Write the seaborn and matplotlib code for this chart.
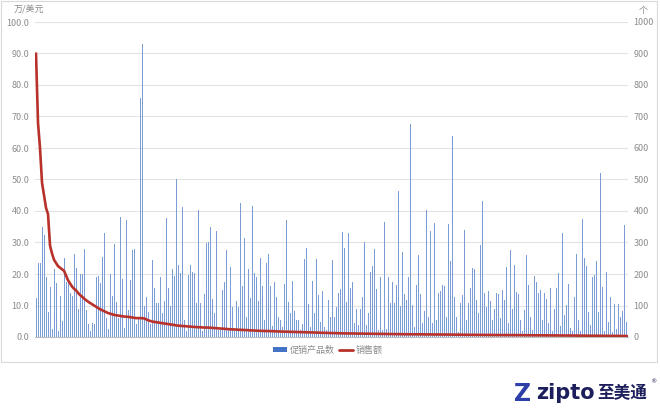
import matplotlib
matplotlib.use("Agg")
import matplotlib.pyplot as plt
import seaborn as sns
import numpy as np
import pandas as pd
from matplotlib.patches import Rectangle, Patch
from matplotlib.lines import Line2D

# ---------------- data ----------------
# bar series: 促销产品数 (个, right axis)
counts_a = [124, 236, 236, 350, 324, 190, 80, 160, 25, 215, 170, 20, 130, 50, 250, 175, 170, 140, 130, 262,
            220, 90, 200, 200, 280, 86, 40, 20, 46, 40, 190, 195, 170, 255, 330, 60, 25, 200, 130, 294,
            110, 60, 382, 185, 30, 370, 86, 180, 275, 278, 40, 60, 760, 930, 100, 128, 80, 40, 245]
counts_b = [155, 108, 108, 192, 75, 113, 377, 155, 97, 215, 195, 500, 230, 202, 414, 54, 20, 197, 230, 207,
            202, 108, 403, 108, 20, 138, 298, 301, 348, 120, 75, 337, 22, 22, 149, 174, 276, 22, 221, 95,
            20, 113, 95, 426, 163, 314, 64, 216, 123, 416, 202, 192, 113, 252, 162, 54, 236, 262, 162, 35]
counts_c = [175, 127, 64, 54, 33, 167, 371, 110, 75, 178, 83, 54, 54, 22, 41, 247, 283, 104, 33, 178,
            75, 247, 133, 49, 147, 33, 22, 117, 64, 244, 64, 95, 141, 152, 333, 282, 112, 330, 154, 175,
            45, 90, 38, 90, 127, 303, 38, 75, 205, 226, 279, 152, 22, 189, 22, 366, 24, 189, 107, 175]
counts_d = [107, 165, 463, 98, 270, 136, 117, 189, 676, 101, 33, 165, 260, 138, 45, 82, 403, 64, 335, 45,
            362, 54, 141, 147, 165, 163, 64, 359, 241, 638, 127, 64, 16, 107, 133, 340, 54, 107, 154, 218,
            215, 117, 75, 293, 432, 141, 95, 147, 115, 54, 90, 141, 138, 60, 150, 117, 222, 45, 275, 90]
counts_e = [229, 144, 137, 55, 18, 86, 260, 165, 65, 23, 194, 176, 140, 149, 55, 141, 122, 43, 154, 18,
            88, 157, 202, 34, 331, 70, 102, 168, 28, 18, 127, 264, 55, 18, 375, 250, 224, 80, 39, 192,
            197, 242, 80, 520, 160, 18, 205, 47, 127, 16, 104, 26, 104, 65, 82, 356, 49]
counts = counts_a + counts_b + counts_c + counts_d + counts_e

# line series: 销售额 (万/美元, left axis)
sales_a = [90, 68, 60, 49, 45, 41, 39, 29, 26.5, 24.5,
           23.5, 22.5, 22, 21.5, 21, 19.5, 18, 17, 16, 15.3,
           14.8, 14, 13.3, 12.8, 12.2, 11.7, 11.2, 10.8, 10.4, 10,
           9.6, 9.2, 8.8, 8.5, 8.2, 7.9, 7.6, 7.4, 7.2, 7.0,
           6.9, 6.8, 6.7, 6.6, 6.5, 6.45, 6.4, 6.3, 6.2, 6.1,
           6.0, 6.0, 6.0, 5.95, 5.9, 5.6, 5.3, 5.1, 4.9, 4.8]
sales_b = [4.7, 4.6, 4.5, 4.4, 4.3, 4.2, 4.1, 4.0, 3.9, 3.8,
           3.7, 3.6, 3.55, 3.5, 3.45, 3.4, 3.35, 3.3, 3.25, 3.2,
           3.15, 3.1, 3.1, 3.05, 3.0, 3.0, 3.0, 2.95, 2.9, 2.85,
           2.8, 2.75, 2.7, 2.65, 2.6, 2.55, 2.5, 2.45, 2.4, 2.4,
           2.35, 2.3, 2.3, 2.25, 2.2, 2.2, 2.15, 2.1, 2.1, 2.05,
           2.0, 2.0, 1.95, 1.95, 1.9, 1.9, 1.9, 1.85, 1.85, 1.8]
sales_c = [1.78, 1.76, 1.74, 1.72, 1.7, 1.68, 1.66, 1.64, 1.62, 1.6,
           1.58, 1.56, 1.54, 1.52, 1.5, 1.48, 1.46, 1.44, 1.42, 1.4,
           1.38, 1.36, 1.34, 1.32, 1.3, 1.28, 1.26, 1.24, 1.22, 1.2,
           1.19, 1.18, 1.17, 1.16, 1.15, 1.14, 1.13, 1.12, 1.11, 1.1,
           1.09, 1.08, 1.07, 1.06, 1.05, 1.04, 1.03, 1.02, 1.01, 1.0,
           0.99, 0.98, 0.97, 0.96, 0.95, 0.94, 0.93, 0.92, 0.91, 0.9]
sales_d = [0.9, 0.89, 0.89, 0.88, 0.88, 0.87, 0.87, 0.86, 0.86, 0.85,
           0.85, 0.84, 0.84, 0.83, 0.83, 0.82, 0.82, 0.81, 0.81, 0.8,
           0.8, 0.79, 0.79, 0.78, 0.78, 0.77, 0.77, 0.76, 0.76, 0.75,
           0.75, 0.74, 0.73, 0.72, 0.71, 0.7, 0.7, 0.69, 0.69, 0.68,
           0.68, 0.67, 0.67, 0.66, 0.66, 0.65, 0.65, 0.64, 0.64, 0.63,
           0.63, 0.62, 0.62, 0.61, 0.61, 0.6, 0.6, 0.6, 0.6, 0.6]
sales_e = [0.59, 0.59, 0.58, 0.58, 0.57, 0.57, 0.56, 0.56, 0.55, 0.55,
           0.54, 0.54, 0.53, 0.53, 0.52, 0.52, 0.51, 0.51, 0.5, 0.5,
           0.49, 0.49, 0.48, 0.48, 0.47, 0.47, 0.46, 0.46, 0.45, 0.45,
           0.44, 0.44, 0.43, 0.43, 0.42, 0.42, 0.41, 0.41, 0.4, 0.4,
           0.39, 0.39, 0.38, 0.38, 0.37, 0.37, 0.36, 0.36, 0.35, 0.35,
           0.34, 0.34, 0.33, 0.33, 0.32, 0.31, 0.3]
sales = sales_a + sales_b + sales_c + sales_d + sales_e

left_ticks = [0, 10, 20, 30, 40, 50, 60, 70, 80, 90, 100]
right_ticks = [0, 100, 200, 300, 400, 500, 600, 700, 800, 900, 1000]
bar_label = "促销产品数"
line_label = "销售额"
left_unit = "万/美元"
right_unit = "个"

n = min(len(counts), len(sales))
df = pd.DataFrame({"idx": np.arange(n), "count": counts[:n], "sales": sales[:n]})

# ---------------- style ----------------
sns.set_theme(style="white")
plt.rcParams["font.family"] = ["Noto Sans CJK SC", "DejaVu Sans"]

W, H = 660, 413
fig = plt.figure(figsize=(W / 100, H / 100), dpi=100)
fig.patch.set_facecolor("white")

# chart frame
fig.patches.append(Rectangle((1 / W, 1 - 362 / H), 656 / W, 361 / H, transform=fig.transFigure,
                             fill=False, edgecolor="#D9D9D9", linewidth=0.8))

L, R, T, B = 35, 628, 22, 337
ax = fig.add_axes([L / W, 1 - B / H, (R - L) / W, (B - T) / H])
ax2 = ax.twinx()

bar_color = "#7A9DD6"
line_color = "#B8322B"
tick_color = "#8C8C8C"

sns.barplot(data=df, x="idx", y="count", ax=ax2, color=bar_color, width=0.5,
            saturation=1, linewidth=0, native_scale=True)
sns.lineplot(data=df, x="idx", y="sales", ax=ax, color=line_color, linewidth=1.9)

ax.set_zorder(ax2.get_zorder() + 1)
ax.patch.set_visible(False)

ax.set_xlim(-0.5, n - 0.5)
ax2.set_xlim(-0.5, n - 0.5)
ax.set_ylim(0, 100)
ax2.set_ylim(0, 1000)

ax2.set_yticks(right_ticks)
ax2.set_yticklabels([str(t) for t in right_ticks])
ax.set_yticks(left_ticks)
ax.set_yticklabels([f"{t:.1f}" for t in left_ticks])

ax2.yaxis.grid(True, color="#E3E3E3", linewidth=0.8)
ax2.set_axisbelow(True)
ax.yaxis.grid(False)
ax.xaxis.grid(False)
ax2.xaxis.grid(False)

for a in (ax, ax2):
    for s in a.spines.values():
        s.set_visible(False)
    a.set_xticks([])
    a.set_xlabel("")
    a.set_ylabel("")
    a.tick_params(axis="y", length=0, labelsize=6.5, labelcolor=tick_color, pad=4)
ax2.spines["bottom"].set_visible(True)
ax2.spines["bottom"].set_color("#BFBFBF")
ax2.spines["bottom"].set_linewidth(0.8)

# unit labels
fig.text(14 / W, 1 - 10 / H, left_unit, fontsize=6.5, color=tick_color, va="center", ha="left")
fig.text(643 / W, 1 - 10 / H, right_unit, fontsize=6.5, color=tick_color, va="center", ha="center")

# legend
handles = [Patch(facecolor="#4472C4", edgecolor="none"),
           Line2D([0], [0], color=line_color, linewidth=2)]
fig.legend(handles, [bar_label, line_label], loc="center", bbox_to_anchor=(328 / W, 1 - 350 / H),
           ncol=2, frameon=False, fontsize=6.5, handlelength=1.6, handleheight=0.5,
           columnspacing=0.4, handletextpad=0.3, labelcolor=tick_color)

# logo
fig.text(514 / W, 1 - 394 / H, "Z", fontsize=17, fontweight="bold", color="#2E3FA8",
         va="center", ha="left", family=["DejaVu Sans"])
fig.text(536 / W, 1 - 393 / H, "zipto", fontsize=15, fontweight="bold", color="#1D1F5C",
         va="center", ha="left", family=["DejaVu Sans"])
fig.text(597 / W, 1 - 393 / H, "至美通", fontsize=12, fontweight="bold", color="#1D1F5C",
         va="center", ha="left")
fig.text(650 / W, 1 - 382 / H, "®", fontsize=4.5, color="#1D1F5C", va="center", ha="left",
         family=["DejaVu Sans"])

fig.savefig("out.png", dpi=100, facecolor="white")
